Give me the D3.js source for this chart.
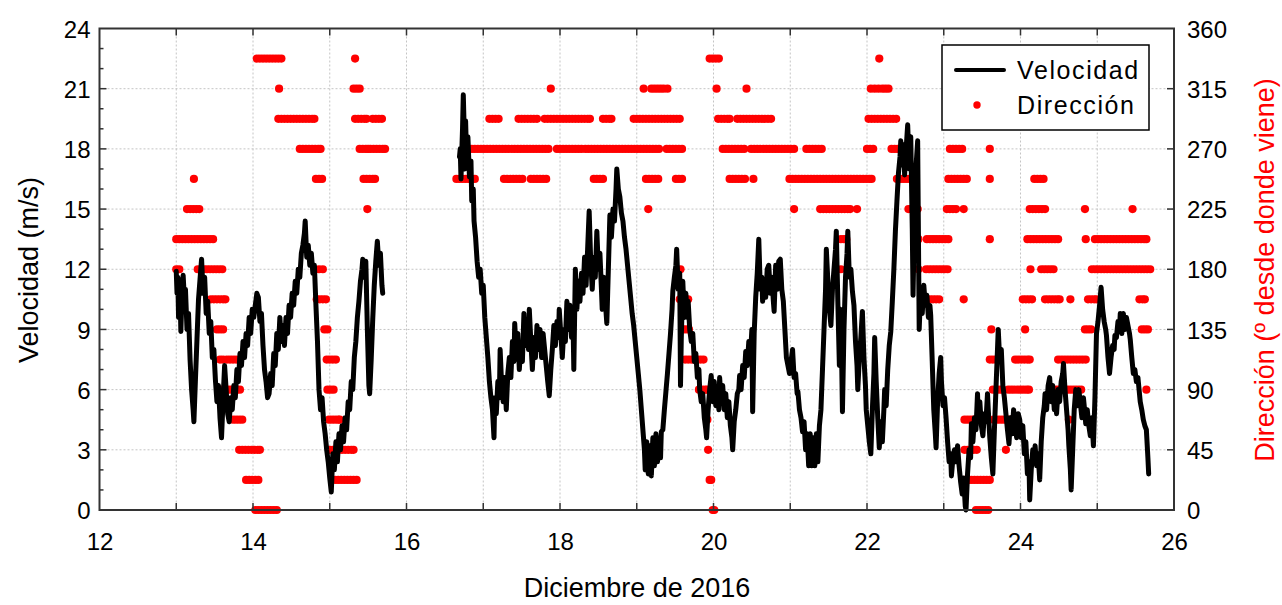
<!DOCTYPE html>
<html><head><meta charset="utf-8">
<script src="https://cdn.jsdelivr.net/npm/d3@7"></script>
<style>
body{margin:0;background:#fff;}
svg{display:block;font-family:"Liberation Sans",Arial,sans-serif;}
</style>
</head><body>
<svg id="chart" width="1282" height="605"></svg>
<script>
// ---------------- DATA ----------------
const xTickLabels = [12,14,16,18,20,22,24,26];
const yTickLabels = [0,3,6,9,12,15,18,21,24];
const yRTickLabels = [0,45,90,135,180,225,270,315,360];
const seriesNames = ["Velocidad","Dirección"];

// Wind speed (m/s): [day of December 2016, value]
const speedSeg1 = [[13.00,11.9],[13.01,10.8],[13.02,11.6],[13.03,9.6],[13.05,10.8],[13.06,8.9],[13.08,11.4],[13.09,11.7],[13.11,10.2],[13.12,11.0],[13.14,9.0],[13.16,9.8],[13.18,7.5],[13.20,6.0],[13.22,5.0],[13.23,4.4],[13.25,6.5],[13.27,8.5],[13.29,10.5],[13.31,11.5],[13.33,12.5],[13.35,10.8],[13.37,11.6],[13.39,9.8],[13.41,10.4],[13.43,8.8],[13.45,9.4],[13.47,7.6],[13.49,8.0],[13.51,6.5],[13.53,5.4],[13.55,6.2],[13.57,4.6],[13.59,3.6],[13.61,5.5],[13.63,7.2],[13.65,6.0],[13.67,4.8],[13.69,4.4],[13.71,5.6],[13.73,5.0],[13.75,6.2],[13.77,5.6],[13.79,7.0],[13.81,6.4],[13.83,7.8],[13.85,7.2],[13.87,8.4],[13.89,7.6],[13.91,8.8],[13.93,8.2],[13.95,9.6],[13.97,8.8],[13.99,10.0],[14.01,9.6],[14.03,10.2],[14.05,10.8],[14.07,10.6],[14.09,9.4],[14.11,9.8],[14.13,8.2],[14.15,7.0],[14.17,6.4],[14.19,5.6],[14.21,5.8],[14.23,6.8],[14.25,6.2],[14.27,7.8],[14.29,7.2],[14.31,8.8],[14.33,8.0],[14.35,9.6],[14.37,8.4],[14.39,9.2],[14.41,8.2],[14.43,9.6],[14.45,8.8],[14.47,10.2],[14.49,9.6],[14.51,10.8],[14.53,10.2],[14.55,11.4],[14.57,10.8],[14.59,12.0],[14.61,11.6],[14.63,12.8],[14.65,13.2],[14.67,13.8],[14.68,14.4],[14.70,12.6],[14.72,13.2],[14.74,12.2],[14.76,12.8],[14.78,11.8],[14.80,12.2],[14.82,10.2],[14.84,8.4],[14.86,6.0],[14.88,5.0],[14.90,5.6],[14.92,4.4],[14.94,3.8],[14.96,3.0],[14.98,2.4],[15.00,1.6],[15.02,0.9],[15.04,2.8],[15.06,2.0],[15.08,3.4],[15.10,2.4],[15.12,3.8],[15.14,3.0],[15.16,4.2],[15.18,3.4],[15.20,4.6],[15.22,4.0],[15.24,5.4],[15.26,5.0],[15.28,6.4],[15.30,6.0],[15.32,7.6],[15.34,8.4],[15.36,9.6],[15.38,10.4],[15.40,11.4],[15.42,12.0],[15.43,12.5],[15.45,11.6],[15.47,12.4],[15.49,9.0],[15.51,6.2],[15.52,5.8],[15.54,7.5],[15.56,9.5],[15.58,11.2],[15.60,12.4],[15.62,13.4],[15.64,12.2],[15.66,12.8],[15.68,11.2],[15.69,10.8]];

const speedSeg2 = [[16.69,17.6],[16.70,18.0],[16.71,16.5],[16.72,17.8],[16.73,19.0],[16.74,20.7],[16.75,19.2],[16.76,17.0],[16.77,19.4],[16.78,18.0],[16.79,17.2],[16.80,18.6],[16.82,16.6],[16.84,17.4],[16.85,15.4],[16.87,16.0],[16.88,14.4],[16.90,13.6],[16.92,12.4],[16.94,11.6],[16.96,12.0],[16.98,10.8],[17.00,11.2],[17.02,9.6],[17.04,8.6],[17.06,7.6],[17.08,6.4],[17.10,5.6],[17.12,5.0],[17.14,3.6],[17.15,5.6],[17.17,4.8],[17.19,6.4],[17.21,5.6],[17.22,8.0],[17.24,6.2],[17.26,5.4],[17.28,6.6],[17.30,5.0],[17.32,6.8],[17.34,7.6],[17.36,6.6],[17.38,8.4],[17.40,7.4],[17.41,9.3],[17.43,7.8],[17.45,8.8],[17.47,7.0],[17.49,8.2],[17.51,7.4],[17.53,9.8],[17.55,8.2],[17.57,9.4],[17.59,8.0],[17.60,10.0],[17.62,8.4],[17.64,7.0],[17.66,8.6],[17.68,7.6],[17.70,9.2],[17.72,8.0],[17.74,9.0],[17.76,7.6],[17.78,8.8],[17.80,8.0],[17.82,7.2],[17.84,6.4],[17.86,5.7],[17.88,7.0],[17.90,8.0],[17.92,9.2],[17.94,8.2],[17.96,9.4],[17.98,8.6],[17.99,10.0],[18.01,8.8],[18.03,7.6],[18.05,9.0],[18.07,8.4],[18.09,10.4],[18.11,9.0],[18.13,10.2],[18.15,8.6],[18.17,9.4],[18.18,7.0],[18.20,12.0],[18.22,10.0],[18.24,11.4],[18.26,10.4],[18.28,11.8],[18.30,10.8],[18.32,12.6],[18.34,11.2],[18.36,13.0],[18.38,14.9],[18.40,12.4],[18.42,11.0],[18.44,12.6],[18.46,11.6],[18.48,13.9],[18.50,12.0],[18.52,12.8],[18.54,11.0],[18.55,10.0],[18.57,11.6],[18.59,10.4],[18.61,9.3],[18.63,12.0],[18.65,14.7],[18.67,13.6],[18.69,15.0],[18.71,14.4],[18.73,16.0],[18.74,17.0],[18.76,16.0],[18.78,15.6],[18.80,14.8],[18.82,14.4],[18.84,13.6],[18.86,13.0],[18.88,12.2],[18.90,11.4],[18.92,10.6],[18.94,9.8],[18.96,9.2],[18.98,8.4],[19.00,7.6],[19.02,6.8],[19.04,6.0],[19.06,5.0],[19.08,4.0],[19.10,3.0],[19.11,2.0],[19.13,3.4],[19.15,1.8],[19.17,3.2],[19.19,1.7],[19.21,3.6],[19.23,2.2],[19.25,3.8],[19.27,2.4],[19.29,3.6],[19.31,2.6],[19.32,3.9],[19.34,4.0],[19.36,5.0],[19.38,5.9],[19.40,6.8],[19.42,7.8],[19.44,8.8],[19.46,10.0],[19.47,10.9],[19.49,11.6],[19.51,12.2],[19.52,13.0],[19.54,11.0],[19.56,11.8],[19.57,6.2],[19.58,8.5],[19.60,11.4],[19.62,9.6],[19.64,10.8],[19.66,9.6],[19.67,10.4],[19.69,9.0],[19.71,8.4],[19.73,8.8],[19.75,7.4],[19.77,7.8],[19.79,6.6],[19.81,7.0],[19.82,6.0],[19.84,5.4],[19.86,5.8],[19.88,4.6],[19.90,4.0],[19.91,3.6],[19.93,5.0],[19.95,6.0],[19.97,6.7],[19.99,5.4],[20.01,6.4],[20.03,5.2],[20.05,6.0],[20.07,5.0],[20.08,6.6],[20.10,5.4],[20.12,6.2],[20.14,5.0],[20.16,5.8],[20.18,4.6],[20.20,5.4],[20.22,4.2],[20.24,3.6],[20.25,3.0],[20.27,4.4],[20.29,5.0],[20.31,5.8],[20.33,6.0],[20.34,6.7],[20.36,6.0],[20.38,7.2],[20.40,6.6],[20.42,7.9],[20.44,7.2],[20.46,8.4],[20.48,7.6],[20.50,9.0],[20.51,4.9],[20.53,8.8],[20.55,10.6],[20.57,11.8],[20.59,13.5],[20.61,11.0],[20.63,11.6],[20.64,10.4],[20.66,11.4],[20.68,10.6],[20.70,12.0],[20.72,12.2],[20.74,10.8],[20.76,11.6],[20.78,10.4],[20.79,9.9],[20.81,12.2],[20.83,11.0],[20.85,12.4],[20.87,12.5],[20.89,11.0],[20.91,10.4],[20.93,9.0],[20.95,7.6],[20.97,7.2],[20.99,6.8],[21.01,7.4],[21.03,8.0],[21.05,6.6],[21.07,6.8],[21.09,5.8],[21.10,5.9],[21.12,5.0],[21.14,4.6],[21.16,3.9],[21.18,4.4],[21.20,3.0],[21.22,3.8],[21.24,2.2],[21.26,3.8],[21.28,2.2],[21.30,3.6],[21.32,2.2],[21.34,3.8],[21.36,2.4],[21.38,4.2],[21.40,5.0],[21.42,7.0],[21.44,9.0],[21.46,11.0],[21.47,13.0],[21.49,11.4],[21.51,10.0],[21.53,9.2],[21.55,11.0],[21.57,12.0],[21.59,13.0],[21.60,13.9],[21.62,10.4],[21.64,7.2],[21.66,10.0],[21.68,4.9],[21.70,9.0],[21.72,11.6],[21.74,12.8],[21.75,13.9],[21.77,11.6],[21.79,12.0],[21.81,10.9],[21.83,10.2],[21.85,8.4],[21.87,7.2],[21.88,6.0],[21.90,7.6],[21.92,8.6],[21.94,9.9],[21.96,7.6],[21.98,6.2],[21.99,5.0],[22.01,4.2],[22.03,3.4],[22.05,2.8],[22.07,5.0],[22.09,6.8],[22.10,8.6],[22.12,6.4],[22.14,4.6],[22.16,3.1],[22.18,4.4],[22.20,3.4],[22.22,5.0],[22.23,6.0],[22.25,5.2],[22.27,7.0],[22.29,8.2],[22.31,8.9],[22.33,10.4],[22.35,12.0],[22.37,13.9],[22.39,15.4],[22.41,16.8],[22.43,17.6],[22.44,18.4],[22.46,17.2],[22.48,18.2],[22.49,16.7],[22.51,18.0],[22.53,19.2],[22.55,17.0],[22.57,18.6],[22.59,14.0],[22.60,10.7],[22.62,15.0],[22.64,17.2],[22.66,18.4],[22.68,9.0],[22.70,11.0],[22.72,9.8],[22.74,11.2],[22.76,10.2],[22.78,10.7],[22.80,9.6],[22.82,10.2],[22.83,9.7],[22.85,7.4],[22.87,5.0],[22.89,3.8],[22.90,3.1],[22.92,5.4],[22.94,6.8],[22.96,7.6],[22.97,6.4],[22.99,5.2],[23.01,5.6],[23.03,4.6],[23.05,3.4],[23.07,2.4],[23.09,2.8],[23.10,1.7],[23.12,2.6],[23.14,3.0],[23.16,2.4],[23.18,3.2],[23.20,2.2],[23.22,1.4],[23.24,0.8],[23.26,1.6],[23.28,0.2],[23.29,0.0],[23.31,1.8],[23.33,3.0],[23.35,2.6],[23.36,4.3],[23.38,3.4],[23.40,4.6],[23.42,4.0],[23.44,5.8],[23.45,4.6],[23.47,5.4],[23.49,4.2],[23.51,3.7],[23.53,4.8],[23.55,4.4],[23.57,5.8],[23.58,5.0],[23.60,3.6],[23.62,2.6],[23.64,1.8],[23.66,4.0],[23.68,6.0],[23.70,8.0],[23.71,9.0],[23.73,7.4],[23.75,8.0],[23.77,6.2],[23.79,5.6],[23.81,4.8],[23.83,4.0],[23.85,3.3],[23.87,4.6],[23.89,3.8],[23.91,5.0],[23.93,4.2],[23.95,3.6],[23.97,4.8],[23.99,4.5],[24.01,3.6],[24.03,4.2],[24.05,2.8],[24.07,3.4],[24.09,1.8],[24.11,2.4],[24.12,0.5],[24.14,2.0],[24.16,3.0],[24.18,2.6],[24.19,3.2],[24.21,2.2],[24.23,2.8],[24.25,1.5],[24.27,3.4],[24.29,4.6],[24.31,5.2],[24.32,5.8],[24.34,5.0],[24.36,6.2],[24.38,6.6],[24.40,5.4],[24.42,6.2],[24.44,5.0],[24.45,5.8],[24.47,4.8],[24.49,6.0],[24.51,5.4],[24.53,6.4],[24.55,6.8],[24.56,7.3],[24.58,6.0],[24.60,5.0],[24.62,4.0],[24.63,3.2],[24.65,2.0],[24.66,1.0],[24.68,3.0],[24.70,5.0],[24.72,6.0],[24.74,5.2],[24.76,6.0],[24.78,5.3],[24.80,4.6],[24.82,5.6],[24.84,4.8],[24.85,4.3],[24.87,5.0],[24.89,4.2],[24.91,3.7],[24.93,4.6],[24.95,3.2],[24.97,5.6],[24.99,8.8],[25.01,9.4],[25.03,10.2],[25.05,11.1],[25.07,10.0],[25.09,9.4],[25.11,9.0],[25.12,8.7],[25.14,7.6],[25.16,6.8],[25.18,7.6],[25.20,8.2],[25.22,8.0],[25.23,8.7],[25.25,8.6],[25.27,9.4],[25.29,9.0],[25.30,9.8],[25.32,8.8],[25.34,9.8],[25.36,9.0],[25.38,9.6],[25.40,9.2],[25.42,8.8],[25.43,8.5],[25.45,7.6],[25.47,6.8],[25.49,7.0],[25.51,6.4],[25.53,6.6],[25.54,6.2],[25.56,5.4],[25.58,5.0],[25.60,4.5],[25.62,4.2],[25.64,4.0],[25.66,2.6],[25.67,1.8]];

// Wind direction (degrees, from where it blows): days at which each sector was observed
const dir0   = [14.03,14.07,14.11,14.15,14.19,14.23,14.27,14.31,19.99,20.01,23.42,23.46,23.50,23.54,23.58];
const dir22  = [13.91,13.95,13.99,14.03,14.07,15.07,15.11,15.15,15.19,15.23,15.27,15.31,15.35,19.95,19.97,23.28,23.32,23.36,23.40,23.44,23.48,23.52,23.56,23.60];
const dir45  = [13.82,13.86,13.90,13.94,13.98,14.02,14.06,14.09,15.00,15.04,15.08,15.12,15.16,15.20,15.24,15.28,15.31,19.93,23.27,23.31,23.35,23.39,23.43,23.81];
const dir67  = [13.74,13.78,13.82,13.86,14.99,15.03,15.07,15.11,15.13,19.92,23.27,23.31,23.35,23.39,23.42,23.65,23.69,23.73,23.77,23.81,23.85,23.89,24.63];
const dir90  = [13.59,13.63,13.67,13.71,13.75,13.79,13.83,14.97,15.01,15.05,19.81,19.85,19.89,19.92,23.64,23.68,23.72,23.76,23.84,23.88,23.92,23.96,24.00,24.04,24.08,24.11,24.47,24.51,24.55,24.59,24.63,24.67,24.71,24.75,24.79,25.64];
const dir112 = [13.57,13.61,13.66,13.70,13.74,13.78,14.96,15.00,15.04,15.08,19.63,19.67,19.71,19.75,19.79,19.83,19.87,23.60,23.64,23.68,23.93,23.97,24.01,24.05,24.09,24.12,24.49,24.53,24.57,24.61,24.65,24.69,24.73,24.77,24.81,24.85];
const dir135 = [13.53,13.57,13.61,14.93,14.97,19.60,19.64,19.68,23.62,24.06,24.84,24.88,24.92,25.58,25.62,25.66];
const dir157 = [13.45,13.49,13.53,13.57,13.61,13.64,14.83,14.87,14.91,14.95,19.56,19.60,19.64,19.67,22.82,22.86,22.90,22.94,23.26,24.03,24.07,24.11,24.15,24.32,24.36,24.40,24.44,24.48,24.51,24.65,24.88,24.92,24.96,24.99,25.55,25.59,25.62];
const dir180 = [13.00,13.04,13.28,13.32,13.36,13.40,13.44,13.48,13.52,13.56,13.60,14.86,14.91,19.57,21.66,22.67,22.77,22.81,22.85,22.89,22.93,22.97,23.01,23.05,24.13,24.27,24.31,24.35,24.39,24.43,24.93,24.97,25.01,25.05,25.09,25.13,25.17,25.21,25.25,25.29,25.33,25.37,25.41,25.45,25.49,25.53,25.57,25.61,25.65,25.69];
const dir202 = [13.00,13.04,13.08,13.12,13.16,13.20,13.24,13.28,13.32,13.36,13.40,13.44,13.48,21.66,21.70,21.73,22.67,22.78,22.82,22.86,22.90,22.94,22.98,23.02,23.06,23.60,24.09,24.13,24.17,24.21,24.25,24.29,24.33,24.37,24.41,24.45,24.49,24.85,24.97,25.01,25.05,25.09,25.13,25.17,25.21,25.25,25.29,25.33,25.37,25.41,25.45,25.49,25.53,25.57,25.61,25.64];
const dir225 = [13.14,13.18,13.22,13.26,13.30,15.49,19.15,21.05,21.39,21.43,21.47,21.51,21.55,21.59,21.63,21.67,21.71,21.75,21.78,21.87,22.54,22.58,22.62,22.66,23.04,23.08,23.12,23.16,23.26,24.12,24.16,24.20,24.24,24.28,24.32,24.84,25.46];
const dir247 = [13.23,14.82,14.86,14.90,15.44,15.48,15.52,15.56,15.59,16.65,16.69,16.73,16.77,16.81,16.85,16.89,17.27,17.31,17.35,17.39,17.43,17.47,17.51,17.62,17.66,17.70,17.74,17.78,17.82,18.44,18.48,18.52,18.56,19.12,19.16,19.20,19.24,19.28,19.51,19.55,19.59,20.21,20.25,20.29,20.33,20.37,20.41,20.52,20.99,21.03,21.07,21.11,21.15,21.19,21.23,21.27,21.31,21.35,21.39,21.43,21.47,21.51,21.55,21.59,21.63,21.67,21.71,21.75,21.79,21.83,21.87,21.91,21.95,21.99,22.03,22.06,22.39,22.43,22.47,22.51,22.55,22.59,22.63,23.06,23.10,23.14,23.18,23.22,23.26,23.30,23.60,24.18,24.22,24.26,24.30];
const dir270 = [14.61,14.65,14.69,14.73,14.77,14.81,14.85,14.88,15.39,15.43,15.47,15.50,15.53,15.57,15.61,15.65,15.69,15.72,16.85,16.89,16.93,16.97,17.01,17.05,17.09,17.13,17.17,17.21,17.25,17.29,17.33,17.37,17.41,17.45,17.49,17.53,17.57,17.61,17.65,17.69,17.73,17.77,17.81,17.85,17.96,18.00,18.04,18.08,18.12,18.16,18.20,18.24,18.28,18.33,18.37,18.41,18.45,18.49,18.53,18.57,18.61,18.65,18.69,18.73,18.77,18.81,18.85,18.89,18.93,18.97,19.01,19.05,19.09,19.13,19.17,19.21,19.25,19.29,19.39,19.43,19.47,19.51,19.55,19.59,20.12,20.16,20.20,20.24,20.28,20.32,20.36,20.40,20.49,20.53,20.57,20.61,20.65,20.69,20.73,20.77,20.81,20.85,20.89,20.93,20.97,21.01,21.05,21.21,21.25,21.29,21.33,21.37,21.41,22.00,22.04,22.08,22.32,22.36,22.40,23.08,23.12,23.16,23.20,23.24,23.60];
const dir292 = [14.33,14.37,14.41,14.45,14.49,14.53,14.57,14.61,14.65,14.69,14.73,14.77,14.80,15.33,15.37,15.41,15.45,15.48,15.56,15.60,15.64,15.68,17.08,17.12,17.16,17.20,17.46,17.50,17.54,17.58,17.62,17.66,17.70,17.80,17.84,17.88,17.92,17.96,18.00,18.04,18.08,18.12,18.16,18.20,18.24,18.28,18.32,18.36,18.39,18.56,18.60,18.64,18.67,18.96,19.00,19.04,19.08,19.12,19.16,19.20,19.24,19.28,19.32,19.36,19.40,19.44,19.48,19.52,19.56,20.06,20.10,20.14,20.18,20.21,20.31,20.35,20.39,20.43,20.47,20.51,20.55,20.59,20.63,20.67,20.71,20.75,22.02,22.06,22.10,22.14,22.18,22.22,22.26,22.30,22.34,22.38];
const dir315 = [14.34,15.31,15.35,15.39,17.88,19.09,19.19,19.23,19.27,19.31,19.35,19.40,20.04,20.43,22.05,22.10,22.15,22.20,22.24,22.28];
const dir337 = [14.05,14.09,14.13,14.17,14.21,14.25,14.29,14.33,14.37,15.33,19.95,19.99,20.03,20.07,22.16];

const dirSectors = [0,22.5,45,67.5,90,112.5,135,157.5,180,202.5,225,247.5,270,292.5,315,337.5];
const dirDays = [dir0,dir22,dir45,dir67,dir90,dir112,dir135,dir157,dir180,dir202,dir225,dir247,dir270,dir292,dir315,dir337];

// ---------------- CHART ----------------
const svg = d3.select("#chart");
const L = 99.5, R = 1174, T = 28.5, B = 510;
const x = d3.scaleLinear().domain([12,26]).range([L,R]);
const y = d3.scaleLinear().domain([0,24]).range([B,T]);
const yR = d3.scaleLinear().domain([0,360]).range([B,T]);
const FONT = 24;
const TITLE = 27;

// grid
const grid = svg.append("g").attr("stroke","#c4c4c4").attr("stroke-width",1).attr("stroke-dasharray","2,2");
d3.range(13,26).forEach(d=>{
  grid.append("line").attr("x1",x(d)).attr("x2",x(d)).attr("y1",T).attr("y2",B);
});
yTickLabels.slice(1,-1).forEach(v=>{
  grid.append("line").attr("x1",L).attr("x2",R).attr("y1",y(v)).attr("y2",y(v));
});

// direction dots
const dirPoints = [];
dirSectors.forEach((deg,i)=>dirDays[i].forEach(d=>dirPoints.push([d,deg])));
svg.append("g").selectAll("circle").data(dirPoints).join("circle")
  .attr("cx",d=>x(d[0])).attr("cy",d=>yR(d[1])).attr("r",4.1).attr("fill","#ff0000");

// speed line
const line = d3.line().x(d=>x(d[0])).y(d=>y(d[1]));
[speedSeg1,speedSeg2].forEach(seg=>{
  svg.append("path").datum(seg).attr("d",line).attr("fill","none")
    .attr("stroke","#000").attr("stroke-width",5).attr("stroke-linejoin","round").attr("stroke-linecap","round");
});

// axes
const tickLen = 7;
const axB = d3.axisBottom(x).tickValues(d3.range(12,27)).tickSize(0).tickFormat(d=>xTickLabels.includes(d)?d:"");
const gB = svg.append("g").attr("transform",`translate(0,${B})`).call(axB);
gB.select(".domain").remove();
gB.selectAll("text").attr("font-size",FONT).attr("fill","#000").attr("dy",0).attr("y",40).attr("font-family","Liberation Sans, Arial, sans-serif");

const axL = d3.axisLeft(y).tickValues(yTickLabels).tickSize(0).tickFormat(d3.format("d"));
const gL = svg.append("g").attr("transform",`translate(${L},0)`).call(axL);
gL.select(".domain").remove();
gL.selectAll("text").attr("font-size",FONT).attr("fill","#000").attr("x",-9).attr("dy","0.36em").attr("font-family","Liberation Sans, Arial, sans-serif");

const axR = d3.axisRight(yR).tickValues(yRTickLabels).tickSize(0).tickFormat(d3.format("d"));
const gR = svg.append("g").attr("transform",`translate(${R},0)`).call(axR);
gR.select(".domain").remove();
gR.selectAll("text").attr("font-size",FONT).attr("fill","#000").attr("x",13).attr("dy","0.36em").attr("font-family","Liberation Sans, Arial, sans-serif");

// inward tick marks
const ticks = svg.append("g").attr("stroke","#333").attr("stroke-width",1.5);
d3.range(13,26).forEach(d=>{
  ticks.append("line").attr("x1",x(d)).attr("x2",x(d)).attr("y1",B).attr("y2",B-tickLen);
  ticks.append("line").attr("x1",x(d)).attr("x2",x(d)).attr("y1",T).attr("y2",T+tickLen);
});
d3.range(1,24).forEach(v=>{
  const len = v%3===0 ? tickLen : 4;
  ticks.append("line").attr("x1",L).attr("x2",L+len).attr("y1",y(v)).attr("y2",y(v));
});
yRTickLabels.slice(1,-1).forEach(v=>{
  ticks.append("line").attr("x1",R).attr("x2",R-tickLen).attr("y1",yR(v)).attr("y2",yR(v));
});

// frame
svg.append("rect").attr("x",L).attr("y",T).attr("width",R-L).attr("height",B-T)
  .attr("fill","none").attr("stroke","#333").attr("stroke-width",2);

// axis titles
svg.append("text").attr("transform","translate(38,270) rotate(-90)").attr("text-anchor","middle")
  .attr("font-size",TITLE).attr("fill","#000").text("Velocidad (m/s)");
svg.append("text").attr("transform","translate(1274,270) rotate(-90)").attr("text-anchor","middle")
  .attr("font-size",TITLE).attr("fill","#ff0000").text("Dirección (º desde donde viene)");
svg.append("text").attr("x",637).attr("y",597).attr("text-anchor","middle")
  .attr("font-size",TITLE).attr("fill","#000").text("Diciembre de 2016");

// legend
const lg = svg.append("g");
lg.append("rect").attr("x",942).attr("y",45).attr("width",207).attr("height",85)
  .attr("fill","#fff").attr("stroke","#000").attr("stroke-width",1.5);
lg.append("line").attr("x1",956).attr("x2",1004).attr("y1",70).attr("y2",70)
  .attr("stroke","#000").attr("stroke-width",4).attr("stroke-linecap","round");
lg.append("circle").attr("cx",977).attr("cy",105).attr("r",3.7).attr("fill","#ff0000");
lg.append("text").attr("x",1017).attr("y",79).attr("font-size",25).attr("letter-spacing",1.6).attr("fill","#000").text(seriesNames[0]);
lg.append("text").attr("x",1017).attr("y",114).attr("font-size",25).attr("letter-spacing",1.6).attr("fill","#000").text(seriesNames[1]);
</script>
</body></html>
